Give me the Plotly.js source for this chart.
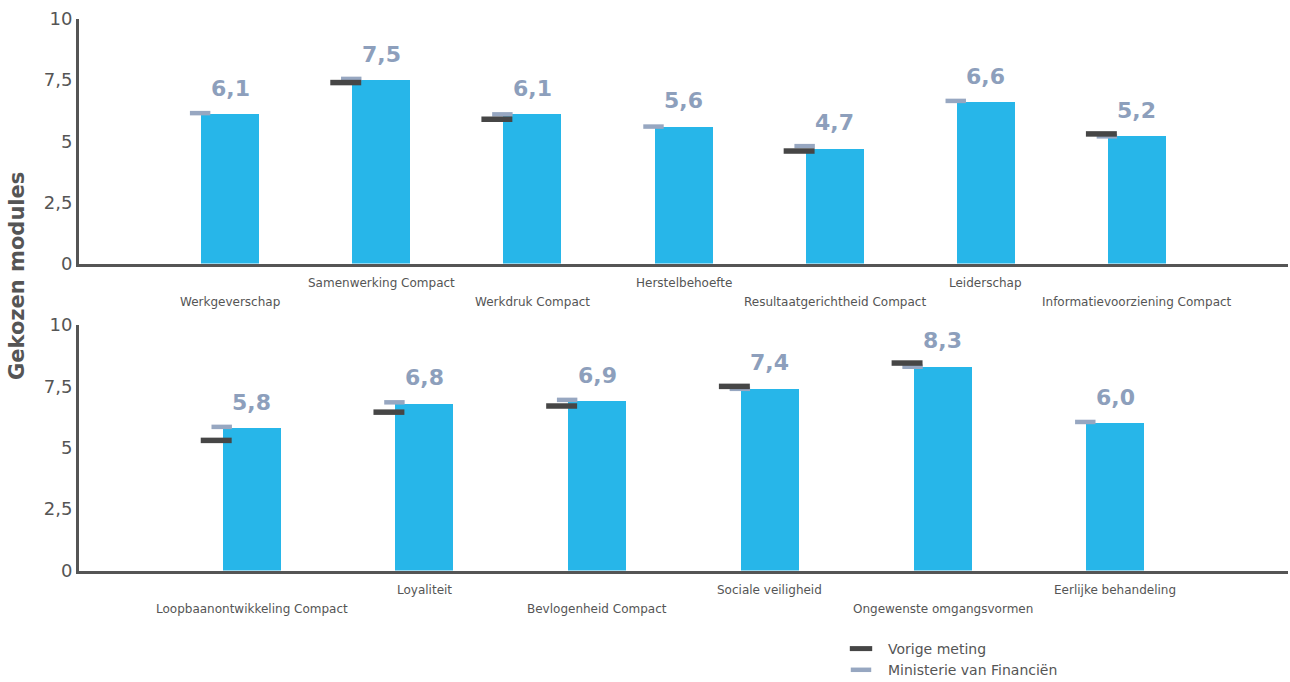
<!DOCTYPE html>
<html><head><meta charset="utf-8">
<script src="https://cdn.plot.ly/plotly-3.0.1.min.js"></script>
<style>html,body{margin:0;padding:0;background:#fff}#chart{width:1290px;height:682px}</style>
</head><body><div id="chart"></div>
<script>
// ---- data ----
const topCategories = ['Werkgeverschap','Samenwerking Compact','Werkdruk Compact','Herstelbehoefte','Resultaatgerichtheid Compact','Leiderschap','Informatievoorziening Compact'];
const topScores   = [6.1, 7.5, 6.1, 5.6, 4.7, 6.6, 5.2];
const topPrevious = [null, 7.4, 5.9, null, 4.6, null, 5.3];
const topMinistry = [6.15, 7.55, 6.1, 5.6, 4.8, 6.65, 5.2];

const bottomCategories = ['Loopbaanontwikkeling Compact','Loyaliteit','Bevlogenheid Compact','Sociale veiligheid','Ongewenste omgangsvormen','Eerlijke behandeling'];
const bottomScores   = [5.8, 6.8, 6.9, 7.4, 8.3, 6.0];
const bottomPrevious = [5.3, 6.45, 6.7, 7.5, 8.45, null];
const bottomMinistry = [5.85, 6.85, 6.95, 7.4, 8.3, 6.05];

const yTickVals = [0, 2.5, 5, 7.5, 10];
const yTickText = ['0', '2,5', '5', '7,5', '10'];
const seriesNames = ['Vorige meting', 'Ministerie van Financiën'];
const yTitle = 'Gekozen modules';

// ---- style ----
const W = 1290, H = 682;
const M = {l: 79, r: 2, t: 0, b: 0, autoexpand: false};
const plotW = W - M.l - M.r;
const px2x = p => (p - M.l) / plotW;       // page px -> paper x
const py2y = p => 1 - p / H;                // page px -> paper y
const BAR_PX = 58, DARK_OFF_PX = -35.5, LIGHT_OFF_PX = -30;
const BAR_COLOR = '#27b6e9', DARK = '#464646', LIGHT = '#97a7c1', VALUE_COLOR = '#8d9fbc', AXIS = '#555555', TEXT = '#555555';
const FONT = 'DejaVu Sans, Verdana, sans-serif';

const panels = [
  {cats: topCategories, scores: topScores, prev: topPrevious, min: topMinistry, xa: 'x', ya: 'y', domain: [py2y(263.5), py2y(19)]},
  {cats: bottomCategories, scores: bottomScores, prev: bottomPrevious, min: bottomMinistry, xa: 'x2', ya: 'y2', domain: [py2y(570.5), py2y(325)]}
];

const traces = [];
const annotations = [];
const layout = {
  width: W, height: H, margin: M, autosize: false,
  paper_bgcolor: '#fff', plot_bgcolor: '#fff',
  showlegend: true, bargap: 0,
  font: {family: FONT, color: TEXT},
  legend: {x: px2x(834), y: py2y(633), xanchor: 'left', yanchor: 'top', itemwidth: 44,
           font: {family: FONT, size: 14, color: TEXT}, bgcolor: 'rgba(0,0,0,0)', traceorder: 'normal'},
  annotations: annotations
};

const fmt = v => v.toFixed(1).replace('.', ',');

panels.forEach((p, k) => {
  const n = p.cats.length;
  const idx = p.cats.map((_, i) => i);
  const range = [-1, n];
  const ppu = plotW / (range[1] - range[0]);
  const axKey = k === 0 ? '' : '2';
  layout['xaxis' + axKey] = {domain: [0, 1], range: range, anchor: p.ya, showline: true, linewidth: 3, linecolor: AXIS,
    showgrid: false, zeroline: false, showticklabels: false, ticks: '', fixedrange: true};
  layout['yaxis' + axKey] = {domain: p.domain, range: [0, 10], anchor: p.xa, showline: true, linewidth: 3, linecolor: AXIS,
    showgrid: false, zeroline: false, ticks: '', tickvals: yTickVals, ticktext: yTickText,
    tickfont: {family: FONT, size: 18, color: TEXT}, fixedrange: true};

  traces.push({type: 'bar', x: idx, y: p.scores, width: BAR_PX / ppu, xaxis: p.xa, yaxis: p.ya,
    marker: {color: BAR_COLOR, line: {width: 0}}, showlegend: false, hoverinfo: 'x+y'});
  traces.push({type: 'scatter', mode: 'markers', name: seriesNames[1], legendgroup: 'min', legendrank: 2, showlegend: k === 0,
    x: idx.map(i => i + LIGHT_OFF_PX / ppu), y: p.min, xaxis: p.xa, yaxis: p.ya, cliponaxis: false,
    marker: {symbol: 'line-ew', size: 14.6, line: {color: LIGHT, width: 4.5}}});
  traces.push({type: 'scatter', mode: 'markers', name: seriesNames[0], legendgroup: 'prev', legendrank: 1, showlegend: k === 0,
    x: idx.map(i => i + DARK_OFF_PX / ppu), y: p.prev, xaxis: p.xa, yaxis: p.ya, cliponaxis: false,
    marker: {symbol: 'line-ew', size: 22.1, line: {color: DARK, width: 5.5}}});

  p.cats.forEach((c, i) => {
    annotations.push({xref: p.xa, yref: p.ya, x: i, y: 0, yshift: i % 2 === 0 ? -38 : -19, yanchor: 'middle', xanchor: 'center',
      text: c, showarrow: false, font: {family: FONT, size: 12, color: TEXT}});
    annotations.push({xref: p.xa, yref: p.ya, x: i, y: p.scores[i], yshift: 26, yanchor: 'middle', xanchor: 'center',
      text: '<b>' + fmt(p.scores[i]) + '</b>', showarrow: false, font: {family: FONT, size: 22, color: VALUE_COLOR}});
  });
});

annotations.push({xref: 'paper', yref: 'paper', x: px2x(17), y: py2y(276), xanchor: 'center', yanchor: 'middle', textangle: -90,
  text: '<b>' + yTitle + '</b>', showarrow: false, font: {family: FONT, size: 21, color: TEXT}});

Plotly.newPlot('chart', traces, layout, {displayModeBar: false, staticPlot: true});
</script>
</body></html>
